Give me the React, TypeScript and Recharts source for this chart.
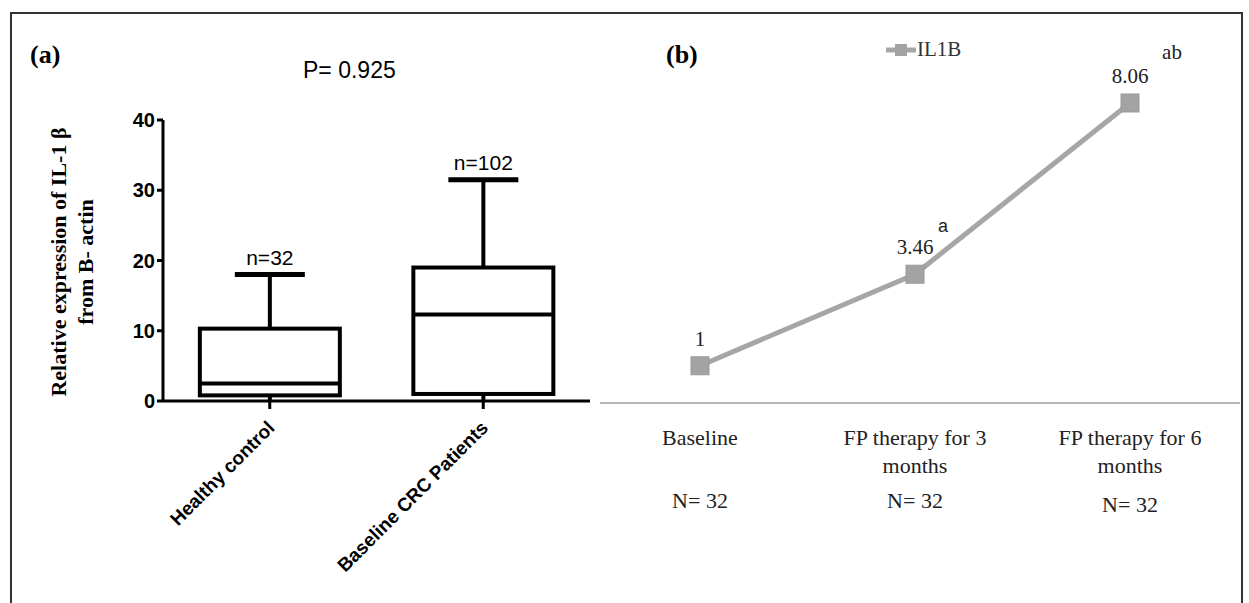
import React from "react";
import { ComposedChart, Bar, XAxis, YAxis, LineChart, Line, LabelList } from "recharts";

const groups = ["Healthy control", "Baseline CRC Patients"];
const minVals = [0, 0];
const q1Vals = [0.8, 1];
const medianVals = [2.5, 12.3];
const q3Vals = [10.3, 19];
const maxVals = [18, 31.5];
const nLabels = ["n=32", "n=102"];
const yTicks = [0, 10, 20, 30, 40];

const timepoints = ["Baseline", "FP therapy for 3 months", "FP therapy for 6 months"];
const il1b = [1, 3.46, 8.06];
const sigLetters = ["", "a", "ab"];
const nCounts = ["N= 32", "N= 32", "N= 32"];

const boxData = groups.map((g, i) => ({
  name: g, min: minVals[i], q1: q1Vals[i], median: medianVals[i], q3: q3Vals[i], max: maxVals[i], n: nLabels[i],
}));
const lineData = timepoints.map((t, i) => ({ name: t, value: il1b[i], sig: sigLetters[i], n: nCounts[i] }));

const BoxShape = (props: any) => {
  const { x, y, width, height, payload } = props;
  const k = height / payload.max;
  const base = y + height;
  const py = (v: number) => base - v * k;
  const cx = x + width / 2;
  const bw = 140;
  const cap = 70;
  return (
    <g stroke="#000" strokeWidth={4} fill="none">
      <line x1={cx} x2={cx} y1={py(payload.max)} y2={py(payload.q3)} />
      <line x1={cx - cap / 2} x2={cx + cap / 2} y1={py(payload.max)} y2={py(payload.max)} strokeWidth={5} />
      <line x1={cx} x2={cx} y1={py(payload.q1)} y2={py(payload.min)} />
      <rect x={cx - bw / 2} y={py(payload.q3)} width={bw} height={py(payload.q1) - py(payload.q3)} fill="#fff" />
      <line x1={cx - bw / 2} x2={cx + bw / 2} y1={py(payload.median)} y2={py(payload.median)} />
      <text x={cx} y={py(payload.max) - 10} textAnchor="middle" stroke="none" fill="#000"
        fontFamily="Arial, Liberation Sans, sans-serif" fontSize={21}>{payload.n}</text>
    </g>
  );
};

const RotTick = (props: any) => {
  const { x, y, payload } = props;
  return (
    <text x={x + 6} y={y + 18} transform={`rotate(-45 ${x + 6} ${y + 18})`} textAnchor="end"
      fontFamily="Arial, Liberation Sans, sans-serif" fontWeight="bold" fontSize={19} fill="#000">
      {payload.value}
    </text>
  );
};

const LineTick = (props: any) => {
  const { x, y, payload, index } = props;
  const words = String(payload.value);
  const lines = words === "Baseline" ? ["Baseline"] : [words.replace(" months", ""), "months"];
  return (
    <g fontFamily="Liberation Serif, Times New Roman, serif" fontSize={22} fill="#222">
      {lines.map((l, i) => (
        <text key={i} x={x} y={y + 34 + i * 28} textAnchor="middle">{l}</text>
      ))}
      <text x={x} y={y + 97 + (index === 2 ? 4 : 0)} textAnchor="middle">{nCounts[index]}</text>
    </g>
  );
};

const ValLabel = (props: any) => {
  const { x, y, index } = props;
  const v = il1b[index];
  return (
    <g fontSize={21} fill="#222">
      <text x={x} y={y - 20} textAnchor="middle" fontFamily="Liberation Serif, Times New Roman, serif">{v}</text>
      {sigLetters[index] && (
        <text x={x + (index === 2 ? 42 : 28)} y={y - (index === 2 ? 44 : 42)} textAnchor="middle"
          fontFamily={index === 2 ? "Liberation Serif, serif" : "Arial, Liberation Sans, sans-serif"} fontSize={index === 2 ? 21 : 18}>
          {sigLetters[index]}
        </text>
      )}
    </g>
  );
};

const SquareDot = (props: any) => {
  const { cx, cy } = props;
  return <rect x={cx - 9} y={cy - 9} width={18} height={18} fill="#a3a3a3" stroke="#999" strokeWidth={1} />;
};

export default function App() {
  return (
    <div style={{ position: "fixed", left: 0, top: 0, width: 1249, height: 603, background: "#fff", overflow: "hidden" }}>
      <div style={{ position: "absolute", left: 10, top: 12, width: 1229, height: 600, borderTop: "2px solid #333", borderLeft: "2px solid #333", borderRight: "2px solid #333" }} />
      <div style={{ position: "absolute", left: 0, top: 0 }}>
        <ComposedChart width={600} height={603} data={boxData} margin={{ top: 120, right: 10, bottom: 52, left: 123 }}>
          <YAxis domain={[0, 40]} ticks={yTicks} width={40} axisLine={{ stroke: "#000", strokeWidth: 3 }}
            tickLine={{ stroke: "#000", strokeWidth: 3 }} tickSize={6}
            tick={{ fill: "#000", fontSize: 20, fontWeight: "bold", fontFamily: "Arial, Liberation Sans, sans-serif" }} />
          <XAxis dataKey="name" height={150} axisLine={{ stroke: "#000", strokeWidth: 3 }}
            tickLine={{ stroke: "#000", strokeWidth: 3 }} tickSize={8} tick={<RotTick />} interval={0} />
          <Bar dataKey="max" shape={<BoxShape />} isAnimationActive={false} />
        </ComposedChart>
      </div>
      <div style={{ position: "absolute", left: 600, top: 0 }}>
        <LineChart width={640} height={603} data={lineData} margin={{ top: 68, right: 0, bottom: 0, left: 0 }}>
          <YAxis hide domain={[0, 9]} />
          <XAxis dataKey="name" height={200} padding={{ left: 100, right: 110 }} axisLine={{ stroke: "#b5b5b5", strokeWidth: 2 }}
            tickLine={false} tick={<LineTick />} interval={0} />
          <Line dataKey="value" stroke="#a6a6a6" strokeWidth={5} dot={<SquareDot />} isAnimationActive={false}>
            <LabelList dataKey="value" content={<ValLabel />} />
          </Line>
        </LineChart>
      </div>
      <div style={{ position: "absolute", left: 30, top: 40, fontFamily: "Liberation Serif, Times New Roman, serif", fontWeight: "bold", fontSize: 26 }}>(a)</div>
      <div style={{ position: "absolute", left: 303, top: 57, fontFamily: "Arial, Liberation Sans, sans-serif", fontSize: 23 }}>P= 0.925</div>
      <div style={{ position: "absolute", left: 666, top: 40, fontFamily: "Liberation Serif, Times New Roman, serif", fontWeight: "bold", fontSize: 26 }}>(b)</div>
      <div style={{ position: "absolute", left: 886, top: 37, display: "flex", alignItems: "center", fontFamily: "Liberation Serif, Times New Roman, serif", fontSize: 21, color: "#333" }}>
        <svg width={30} height={14} style={{ marginRight: 1 }}>
          <line x1={0} x2={30} y1={7} y2={7} stroke="#a6a6a6" strokeWidth={5} />
          <rect x={9} y={1} width={12} height={12} fill="#a3a3a3" />
        </svg>
        IL1B
      </div>
      <div style={{ position: "absolute", left: 72, top: 262, width: 0, height: 0 }}>
        <div style={{ position: "absolute", transform: "translate(-50%,-50%) rotate(-90deg)", whiteSpace: "nowrap", textAlign: "center",
          fontFamily: "Liberation Serif, Times New Roman, serif", fontWeight: "bold", fontSize: 22, lineHeight: "27px" }}>
          Relative expression of IL-1 β<br />from B- actin
        </div>
      </div>
    </div>
  );
}
